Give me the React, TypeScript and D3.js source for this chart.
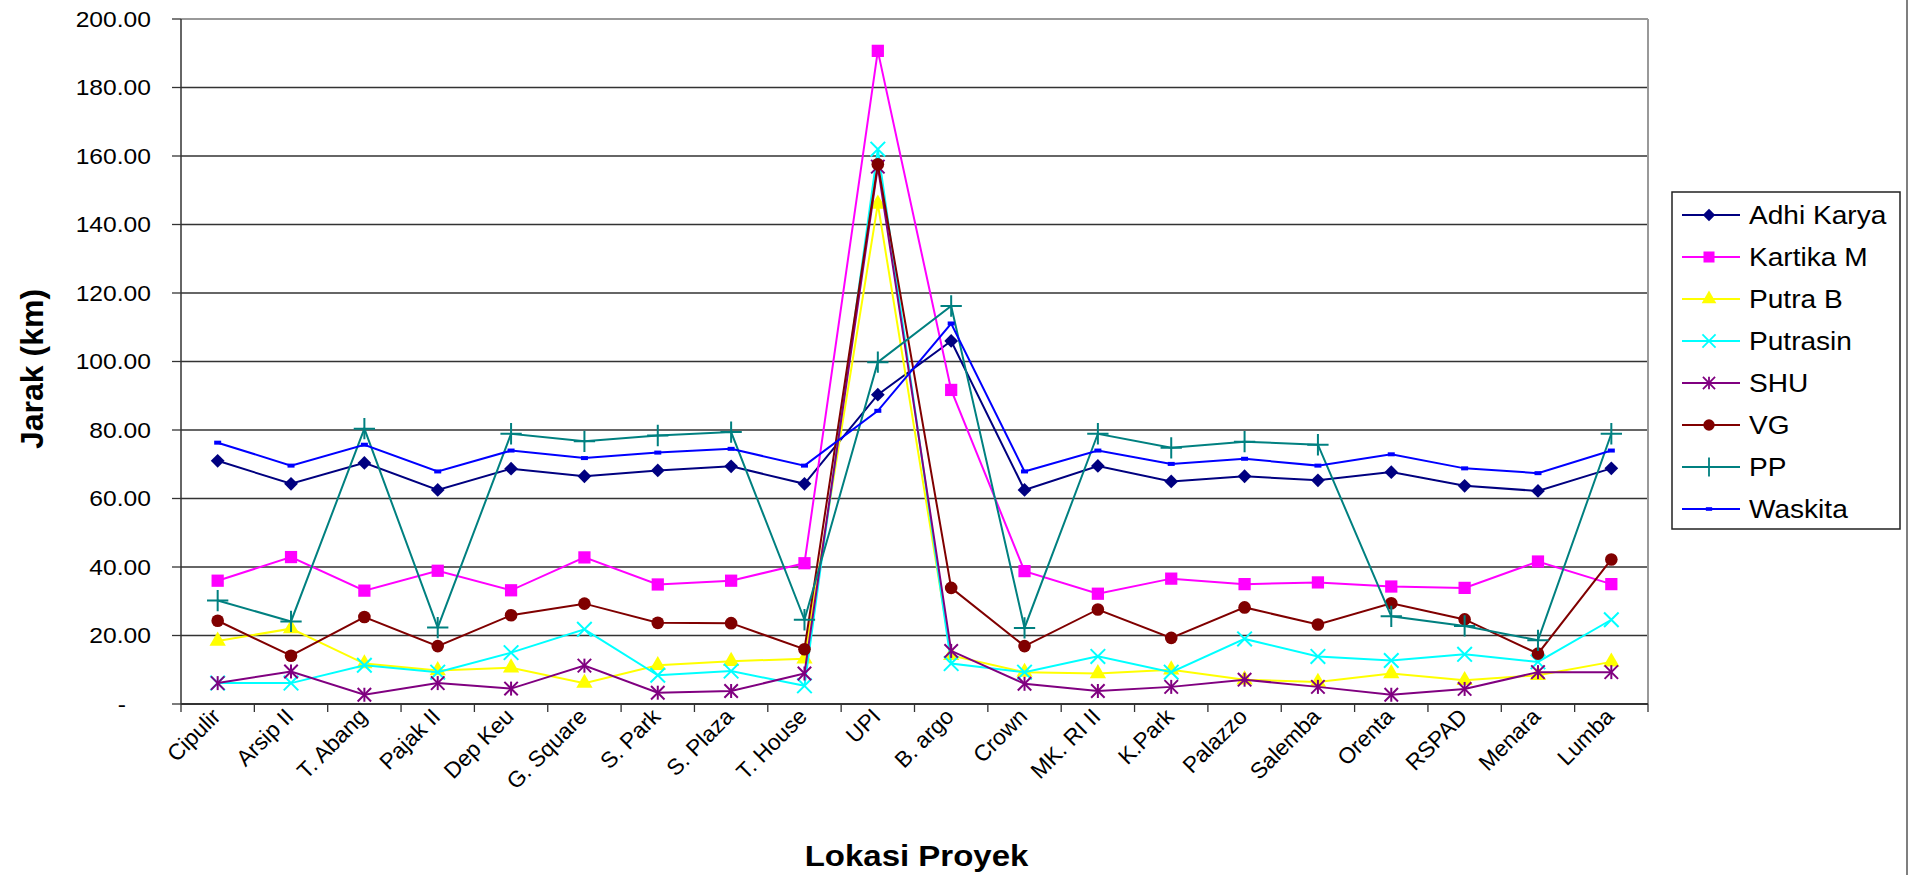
import React, { useEffect, useRef } from "react";
import * as d3 from "d3";

// categories along the x axis
const categories = [
  "Cipulir", "Arsip II", "T. Abang", "Pajak II", "Dep Keu", "G. Square",
  "S. Park", "S. Plaza", "T. House", "UPI", "B. argo", "Crown",
  "MK. RI II", "K.Park", "Palazzo", "Salemba", "Orenta", "RSPAD",
  "Menara", "Lumba",
];

// series values (km)
const adhiKarya = [71.0, 64.3, 70.4, 62.5, 68.7, 66.5, 68.2, 69.4, 64.3, 90.3, 106.0, 62.5, 69.5, 65.0, 66.5, 65.3, 67.7, 63.7, 62.2, 68.8];
const kartikaM = [36.0, 42.9, 33.1, 38.9, 33.2, 42.8, 34.9, 36.0, 41.1, 190.7, 91.7, 38.8, 32.2, 36.6, 35.0, 35.5, 34.3, 33.9, 41.6, 35.0];
const putraB = [18.4, 22.0, 11.8, 9.8, 10.6, 6.1, 11.3, 12.5, 13.2, 146.0, 14.2, 9.3, 8.9, 10.0, 7.1, 6.4, 8.9, 6.9, 8.4, 12.3];
const putrasin = [6.1, 6.1, 11.3, 9.3, 15.0, 21.8, 8.4, 9.6, 5.3, 162.0, 11.8, 9.3, 13.9, 9.3, 19.0, 13.9, 12.7, 14.5, 12.3, 24.6];
const shu = [6.1, 9.5, 2.7, 6.1, 4.5, 11.2, 3.3, 3.8, 8.9, 156.9, 15.5, 5.9, 3.8, 5.0, 7.1, 5.0, 2.7, 4.4, 9.3, 9.3];
const vg = [24.3, 14.1, 25.4, 16.9, 25.9, 29.3, 23.7, 23.6, 16.0, 157.6, 33.9, 16.9, 27.6, 19.3, 28.2, 23.2, 29.4, 24.7, 14.7, 42.2];
const pp = [30.2, 24.1, 80.4, 22.3, 78.9, 76.7, 78.4, 79.4, 24.6, 99.8, 116.2, 22.2, 78.9, 74.8, 76.6, 75.7, 25.6, 22.8, 18.6, 78.9];
const waskita = [76.3, 69.6, 75.7, 67.9, 74.0, 71.8, 73.4, 74.5, 69.6, 85.6, 111.1, 67.9, 74.0, 70.1, 71.6, 69.6, 72.9, 68.8, 67.4, 74.0];

const seriesNames = ["Adhi Karya", "Kartika M", "Putra B", "Putrasin", "SHU", "VG", "PP", "Waskita"];
const seriesValues = [adhiKarya, kartikaM, putraB, putrasin, shu, vg, pp, waskita];
const seriesColors = ["#000080", "#FF00FF", "#FFFF00", "#00FFFF", "#800080", "#800000", "#008080", "#0000FF"];
const seriesMarkers = ["diamond", "square", "triangle", "x", "star", "circle", "plus", "dash"];

const yTicks = [0, 20, 40, 60, 80, 100, 120, 140, 160, 180, 200];
const yTickLabels = ["-", "20.00", "40.00", "60.00", "80.00", "100.00", "120.00", "140.00", "160.00", "180.00", "200.00"];

const yTitle = "Jarak (km)";
const xTitle = "Lokasi Proyek";

const WIDTH = 1910;
const HEIGHT = 875;
const FONT = "'Liberation Sans', Arial, sans-serif";

// draws one marker glyph centred at (cx, cy)
function drawMarker(g: any, kind: string, color: string, cx: number, cy: number, scale = 1) {
  const m = g.append("g").attr("transform", `translate(${cx},${cy}) scale(${scale})`);
  if (kind === "diamond") {
    m.append("path").attr("d", d3.symbol(d3.symbolSquare, 95)()).attr("transform", "rotate(45)").attr("fill", color);
  } else if (kind === "square") {
    m.append("path").attr("d", d3.symbol(d3.symbolSquare, 150)()).attr("fill", color);
  } else if (kind === "triangle") {
    m.append("path").attr("d", d3.symbol(d3.symbolTriangle, 115)()).attr("fill", color);
  } else if (kind === "circle") {
    m.append("path").attr("d", d3.symbol(d3.symbolCircle, 125)()).attr("fill", color);
  } else if (kind === "x") {
    m.append("path").attr("d", d3.symbol(d3.symbolTimes, 140)()).attr("fill", "none").attr("stroke", color).attr("stroke-width", 2);
  } else if (kind === "star") {
    m.append("path").attr("d", d3.symbol(d3.symbolTimes, 120)()).attr("fill", "none").attr("stroke", color).attr("stroke-width", 2);
    m.append("line").attr("x1", 0).attr("x2", 0).attr("y1", -7).attr("y2", 7).attr("stroke", color).attr("stroke-width", 2);
  } else if (kind === "plus") {
    m.append("path").attr("d", d3.symbol(d3.symbolPlus, 150)()).attr("fill", "none").attr("stroke", color).attr("stroke-width", 2);
  } else if (kind === "dash") {
    m.append("rect").attr("x", -3.5).attr("y", -2).attr("width", 7).attr("height", 4).attr("fill", color);
  }
}

const App: React.FC = () => {
  const svgRef = useRef<SVGSVGElement | null>(null);

  useEffect(() => {
    if (!svgRef.current) return;
    const svg = d3.select(svgRef.current);
    svg.selectAll("*").remove();

    const margin = { top: 19, right: 262, bottom: 171, left: 181 };
    const x0 = margin.left;
    const x1 = WIDTH - margin.right;
    const yTop = margin.top;
    const yBottom = HEIGHT - margin.bottom;

    const x = d3.scaleBand<string>().domain(categories).range([x0, x1]);
    const y = d3.scaleLinear().domain([0, 200]).range([yBottom, yTop]);
    const cx = (c: string) => (x(c) as number) + x.bandwidth() / 2;

    svg.append("rect").attr("width", WIDTH).attr("height", HEIGHT).attr("fill", "#fff");

    // gridlines
    svg.append("g")
      .selectAll("line")
      .data(yTicks.filter((t) => t > 0 && t < 200))
      .join("line")
      .attr("x1", x0)
      .attr("x2", x1)
      .attr("y1", (d) => y(d))
      .attr("y2", (d) => y(d))
      .attr("stroke", "#333")
      .attr("stroke-width", 1.3);

    // plot area border (top / right grey)
    svg.append("line").attr("x1", x0).attr("x2", x1).attr("y1", yTop).attr("y2", yTop).attr("stroke", "#999").attr("stroke-width", 2);
    svg.append("line").attr("x1", x1).attr("x2", x1).attr("y1", yTop).attr("y2", yBottom).attr("stroke", "#999").attr("stroke-width", 2);

    // y axis
    svg.append("line").attr("x1", x0).attr("x2", x0).attr("y1", yTop).attr("y2", yBottom).attr("stroke", "#333").attr("stroke-width", 1.5);
    const yAxis = svg.append("g");
    yTicks.forEach((t, i) => {
      yAxis.append("line").attr("x1", x0 - 9).attr("x2", x0).attr("y1", y(t)).attr("y2", y(t)).attr("stroke", "#333").attr("stroke-width", 1.3);
      const lx = t === 0 ? 126 : 151;
      yAxis.append("text")
        .attr("transform", `translate(${lx},${y(t)}) scale(1.12,1)`)
        .attr("dy", "0.36em")
        .attr("text-anchor", "end")
        .attr("font-family", FONT)
        .attr("font-size", 22)
        .attr("fill", "#000")
        .text(yTickLabels[i]);
    });

    // x axis
    svg.append("line").attr("x1", x0).attr("x2", x1).attr("y1", yBottom).attr("y2", yBottom).attr("stroke", "#333").attr("stroke-width", 2);
    const xAxis = svg.append("g");
    categories.forEach((c, i) => {
      const bx = x(c) as number;
      xAxis.append("line").attr("x1", bx).attr("x2", bx).attr("y1", yBottom).attr("y2", yBottom + 8).attr("stroke", "#333").attr("stroke-width", 1.3);
      if (i === categories.length - 1) {
        xAxis.append("line").attr("x1", bx + x.bandwidth()).attr("x2", bx + x.bandwidth()).attr("y1", yBottom).attr("y2", yBottom + 8).attr("stroke", "#333").attr("stroke-width", 1.3);
      }
      xAxis.append("text")
        .attr("transform", `translate(${cx(c) + 4},${yBottom + 14}) rotate(-45)`)
        .attr("text-anchor", "end")
        .attr("font-family", FONT)
        .attr("font-size", 22.5)
        .attr("fill", "#000")
        .text(c);
    });

    // series
    seriesValues.forEach((vals, si) => {
      const g = svg.append("g");
      const line = d3.line<number>()
        .x((_, i) => cx(categories[i]))
        .y((d) => y(d));
      g.append("path")
        .datum(vals)
        .attr("d", line)
        .attr("fill", "none")
        .attr("stroke", seriesColors[si])
        .attr("stroke-width", 2);
      vals.forEach((v, i) => drawMarker(g, seriesMarkers[si], seriesColors[si], cx(categories[i]), y(v)));
    });

    // titles
    svg.append("text")
      .attr("transform", `translate(${(x0 + x1) / 2 + 2},866) scale(1.1,1)`)
      .attr("text-anchor", "middle")
      .attr("font-family", FONT)
      .attr("font-weight", "bold")
      .attr("font-size", 30)
      .text(xTitle);
    svg.append("text")
      .attr("transform", `translate(43,369) rotate(-90)`)
      .attr("text-anchor", "middle")
      .attr("font-family", FONT)
      .attr("font-weight", "bold")
      .attr("font-size", 32)
      .text(yTitle);

    // legend
    const lg = svg.append("g");
    lg.append("rect").attr("x", 1672).attr("y", 192).attr("width", 228).attr("height", 337)
      .attr("fill", "#fff").attr("stroke", "#222").attr("stroke-width", 1.5);
    seriesNames.forEach((name, i) => {
      const ly = 215 + i * 42;
      lg.append("line").attr("x1", 1682).attr("x2", 1740).attr("y1", ly).attr("y2", ly)
        .attr("stroke", seriesColors[i]).attr("stroke-width", 2);
      drawMarker(lg, seriesMarkers[i], seriesColors[i], 1709, ly, 0.9);
      lg.append("text")
        .attr("transform", `translate(1749,${ly}) scale(1.08,1)`)
        .attr("dy", "0.36em")
        .attr("font-family", FONT)
        .attr("font-size", 26)
        .attr("fill", "#000")
        .text(name);
    });

    // outer chart edge on the right
    svg.append("line").attr("x1", 1907).attr("x2", 1907).attr("y1", 0).attr("y2", HEIGHT).attr("stroke", "#555").attr("stroke-width", 1.5);
  }, []);

  return (
    <svg
      ref={svgRef}
      width={WIDTH}
      height={HEIGHT}
      style={{ position: "absolute", left: 0, top: 0, display: "block" }}
    />
  );
};

export default App;
